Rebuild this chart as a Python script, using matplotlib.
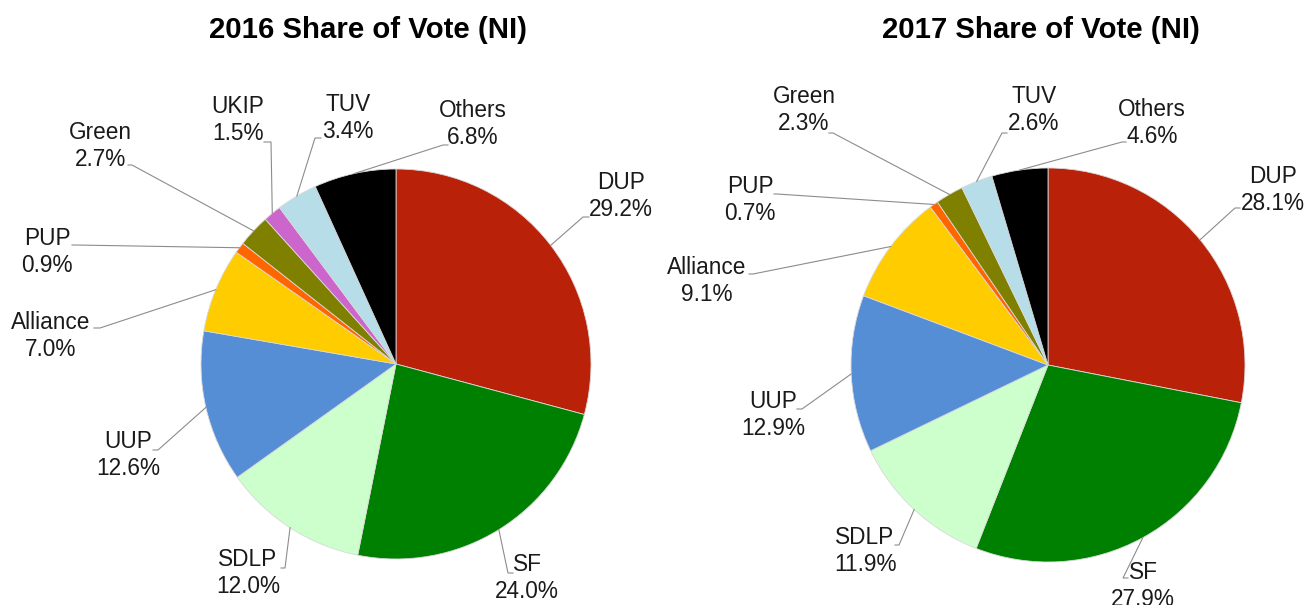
#!/usr/bin/env python3
"""Two pie charts - NI share of vote, 2016 vs 2017."""
import matplotlib.pyplot as plt
import numpy as np

plt.rcParams['font.family'] = ['Liberation Sans', 'DejaVu Sans']

parties_2016 = ['DUP', 'SF', 'SDLP', 'UUP', 'Alliance', 'PUP', 'Green', 'UKIP', 'TUV', 'Others']
share_2016 = [29.2, 24.0, 12.0, 12.6, 7.0, 0.9, 2.7, 1.5, 3.4, 6.8]

parties_2017 = ['DUP', 'SF', 'SDLP', 'UUP', 'Alliance', 'PUP', 'Green', 'TUV', 'Others']
share_2017 = [28.1, 27.9, 11.9, 12.9, 9.1, 0.7, 2.3, 2.6, 4.6]

colours = {
    'DUP': '#BA2109', 'SF': '#008000', 'SDLP': '#CCFFCC', 'UUP': '#558ED5',
    'Alliance': '#FFCC00', 'PUP': '#FF6600', 'Green': '#808000',
    'UKIP': '#CC66CC', 'TUV': '#B7DDE8', 'Others': '#000000',
}

W, H = 1310, 605

# layout, in pixels from the top-left corner
text_2016 = {
    'DUP': (621, 196), 'SF': (527, 578), 'SDLP': (248, 573), 'UUP': (128, 455),
    'Alliance': (51, 336), 'PUP': (47, 252), 'Green': (100, 146),
    'UKIP': (238, 120), 'TUV': (348, 118), 'Others': (473, 124),
}
# elbow x, elbow y, end of the short horizontal stub
elbow_2016 = {
    'DUP': (583, 217, 589), 'SF': (508, 573, 513), 'SDLP': (285, 568, 281),
    'UUP': (158, 450, 153), 'Alliance': (100, 328, 94), 'PUP': (75, 245, 72),
    'Green': (132, 165, 128), 'UKIP': (271, 142, 264), 'TUV': (315, 138, 321),
    'Others': (443, 145, 448),
}
text_2017 = {
    'DUP': (1273, 190), 'SF': (1143, 586), 'SDLP': (865, 551), 'UUP': (773, 415),
    'Alliance': (707, 281), 'PUP': (750, 200), 'Green': (804, 110),
    'TUV': (1034, 110), 'Others': (1152, 123),
}
elbow_2017 = {
    'DUP': (1235, 208, 1240), 'SF': (1123, 578, 1128), 'SDLP': (899, 545, 895),
    'UUP': (802, 409, 797), 'Alliance': (753, 274, 749), 'PUP': (777, 194, 774),
    'Green': (833, 133, 829), 'TUV': (1002, 133, 1007), 'Others': (1122, 142, 1126),
}


def draw_pie(ax, parties, shares, centre, radius, text_pos, elbows, title, title_x):
    cx, cy = centre
    wedges, _ = ax.pie(shares, colors=[colours[p] for p in parties], startangle=90,
                       counterclock=False, center=(cx, H - cy), radius=radius,
                       wedgeprops=dict(edgecolor='#d9d9d9', linewidth=0.6))
    for w, p, s in zip(wedges, parties, shares):
        ang = np.deg2rad((w.theta1 + w.theta2) / 2)
        x0 = w.center[0] + w.r * np.cos(ang)
        y0 = w.center[1] + w.r * np.sin(ang)
        ex, ey, sx = elbows[p]
        ax.plot([x0, ex, sx], [y0, H - ey, H - ey], color='#8c8c8c', lw=0.8,
                solid_joinstyle='miter')
        tx, ty = text_pos[p]
        ax.text(tx, H - ty, f'{p}\n{s:.1f}%', ha='center', va='center',
                multialignment='center', fontsize=16.3, color='#1a1a1a')
    ax.text(title_x, H - 30, title, ha='center', va='center', fontsize=21.2,
            fontweight='bold', color='black')


fig = plt.figure(figsize=(W / 100, H / 100), dpi=100)
ax = fig.add_axes([0, 0, 1, 1])

draw_pie(ax, parties_2016, share_2016, (396, 364), 195, text_2016, elbow_2016,
         '2016 Share of Vote (NI)', 368)
draw_pie(ax, parties_2017, share_2017, (1048, 365), 197, text_2017, elbow_2017,
         '2017 Share of Vote (NI)', 1041)

ax.set_xlim(0, W)
ax.set_ylim(0, H)
ax.set_aspect('equal')
ax.axis('off')

fig.savefig('out.png', dpi=100)
